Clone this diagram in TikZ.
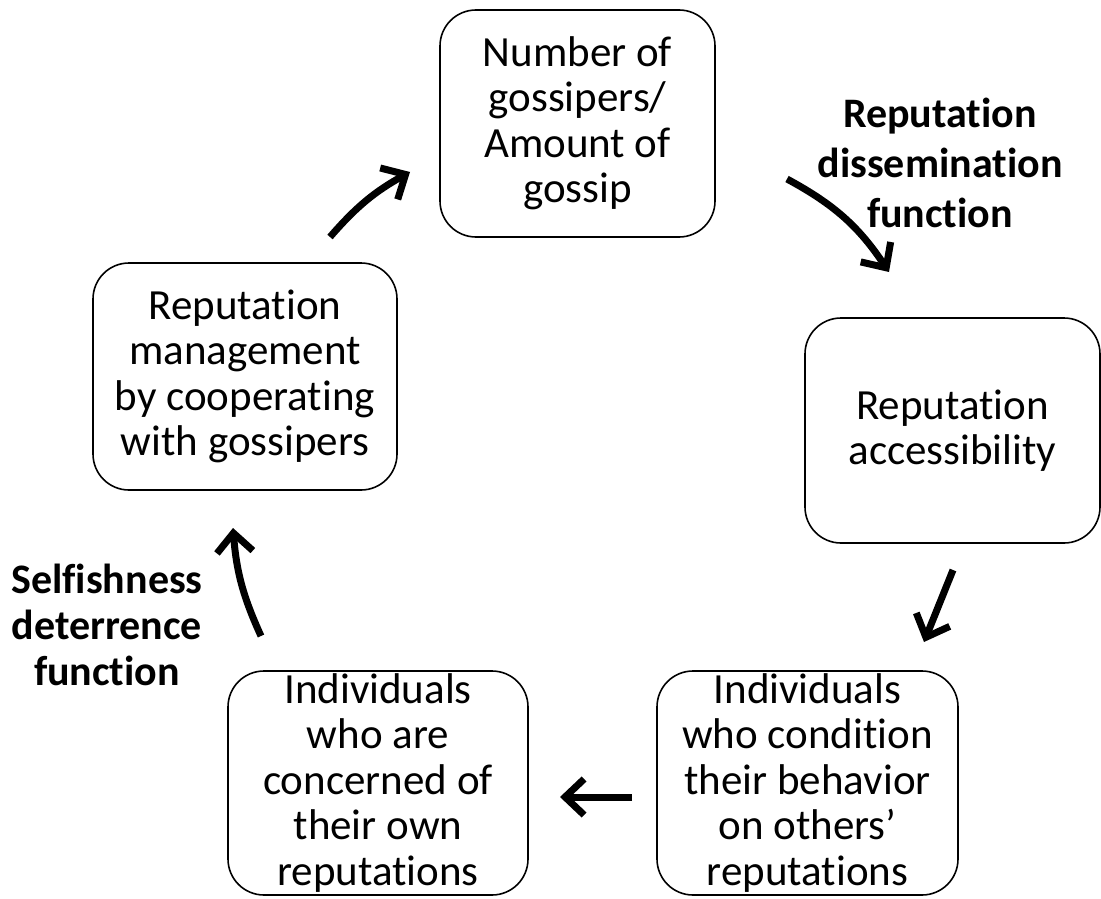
\documentclass[tikz,border=0pt]{standalone}
\usepackage{fontspec}
\setmainfont{Carlito}[Ligatures=NoCommon]
\usetikzlibrary{arrows.meta}
\begin{document}
\begin{tikzpicture}[x=1pt,y=-1pt,
  box/.style={draw, line width=1.6pt, rounded corners=36pt, align=center,
    font=\fontsize{43}{45.5}\selectfont, inner sep=0pt},
  lbl/.style={align=center, font=\fontsize{42}{50}\selectfont\bfseries},
  lbltwo/.style={align=center, font=\fontsize{42}{46}\selectfont\bfseries},
  flow/.style={line width=7pt, -{Straight Barb[length=19pt,width=36pt,line width=7pt]}}]
\useasboundingbox (0,0) rectangle (1101,899);
\node[box, minimum width=275pt, minimum height=227pt] (top) at (577.5,123.5)
  {Number of\\gossipers/\\Amount of\\gossip};
\node[box, minimum width=295pt, minimum height=225pt] (right) at (952.5,430.5)
  {Reputation\\accessibility};
\node[box, minimum width=301pt, minimum height=224pt] (br) at (807.5,783)
  {Individuals\\who condition\\their behavior\\on others'\\reputations};
\node[box, minimum width=300pt, minimum height=224pt] (bl) at (378,783)
  {Individuals\\who are\\concerned of\\their own\\reputations};
\node[box, minimum width=304pt, minimum height=227pt] (left) at (245,376.5)
  {Reputation\\management\\by cooperating\\with gossipers};
\node[lbl] (diss) at (940,163) {Reputation\\dissemination\\function};
\node[lbltwo] (self) at (107,625) {Selfishness\\deterrence\\function};
\coordinate (a1s) at (330,237); \coordinate (a1e) at (410,172);
\coordinate (a2s) at (787,179); \coordinate (a2e) at (889,272);
\coordinate (a3s) at (953,570); \coordinate (a3e) at (924,642);
\coordinate (a4s) at (632,797); \coordinate (a4e) at (560,797);
\coordinate (a5s) at (261,636); \coordinate (a5e) at (233,528);
\draw[flow] (a1s) to[bend left=10] (a1e);
\draw[flow] (a2s) to[bend left=14] (a2e);
\draw[flow] (a3s) -- (a3e);
\draw[flow] (a4s) -- (a4e);
\draw[flow] (a5s) to[bend left=10] (a5e);
\end{tikzpicture}
\end{document}
